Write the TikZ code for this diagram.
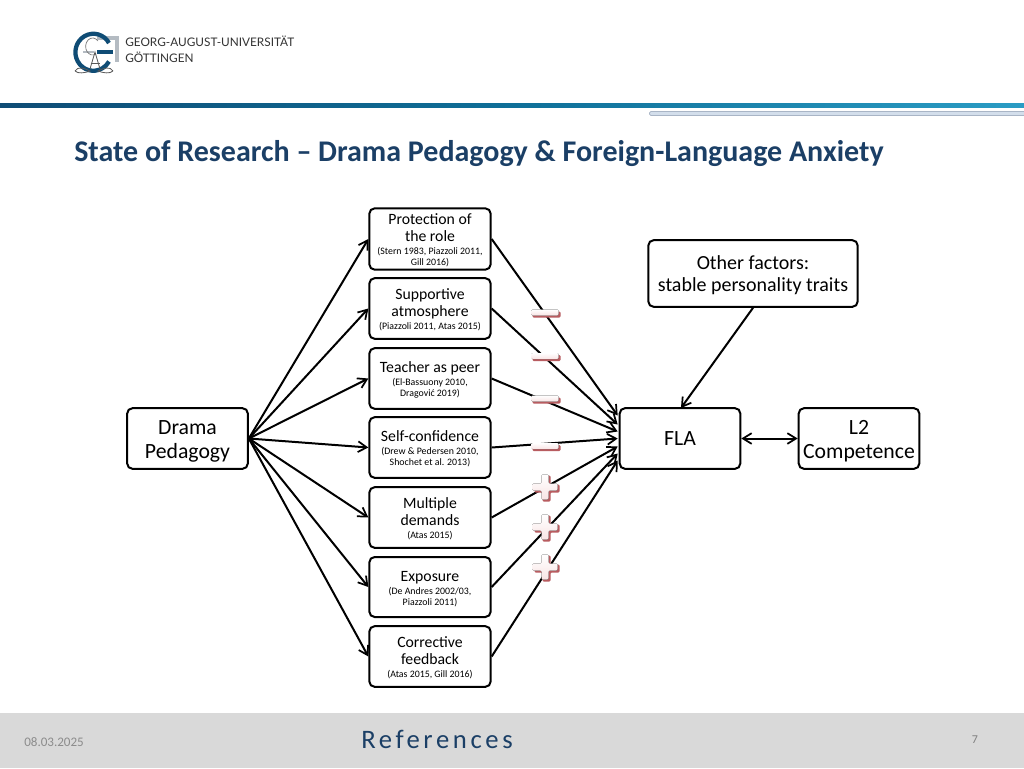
\documentclass[tikz,border=0pt]{standalone}
\usepackage{fontspec}
\setmainfont{Carlito}
\newfontfamily\spacedfont[LetterSpace=13.5]{Carlito}
\newfontfamily\logofont{Lato}
\usetikzlibrary{arrows.meta,calc}
\definecolor{titleblue}{HTML}{1B3F66}
\definecolor{barA}{HTML}{0F4C75}
\definecolor{barM}{HTML}{0F6F98}
\definecolor{barB}{HTML}{2A9CC4}
\definecolor{footgrey}{HTML}{D9D9D9}
\definecolor{symred}{HTML}{B85C60}
\definecolor{sympink}{HTML}{F8E4E4}
\definecolor{lightbar}{HTML}{D3DEEB}
\definecolor{lightedge}{HTML}{A9B5C6}
\definecolor{logogrey}{HTML}{B4BBC2}
\tikzset{
  x=0.75pt,y=-0.75pt,
  barb/.tip={Straight Barb[length=6.5pt,width=8pt,line width=1.3pt]},
  boxnode/.style={draw=black,line width=1.5pt,rounded corners=4pt,fill=white,align=center,inner sep=0pt,text=black},
  midbox/.style={boxnode,minimum width=91pt,font=\fontsize{11.8}{13.2}\selectfont},
  bigbox/.style={boxnode,minimum width=90.5pt,minimum height=45.5pt,font=\fontsize{16.3}{18}\selectfont},
  link/.style={draw=black,line width=1.5pt,-barb},
  symbolface/.style={draw=none,top color=white,bottom color=sympink},
  symbolshade/.style={draw=none,fill=symred},
}
\newcommand{\refs}[1]{{\fontsize{7.4}{8.2}\selectfont #1}}
\newcommand{\lift}{\rule{0pt}{10.2pt}}
\newcommand{\minussign}[2]{%
  \fill[symbolshade,rounded corners=0.8pt] (#1-13,#2-2) rectangle (#1+15,#2+4);
  \fill[symbolface,rounded corners=0.8pt] (#1-14,#2-4) rectangle (#1+13,#2+2);}
\newcommand{\plussign}[2]{%
  \fill[symbolshade,rounded corners=0.8pt] (#1-3,#2-12)--(#1+5,#2-12)--(#1+5,#2-3)--(#1+14,#2-3)--(#1+14,#2+5)--(#1+5,#2+5)--(#1+5,#2+14)--(#1-3,#2+14)--(#1-3,#2+5)--(#1-11,#2+5)--(#1-11,#2-3)--(#1-3,#2-3)--cycle;
  \fill[symbolface,rounded corners=0.8pt] (#1-4,#2-13)--(#1+3,#2-13)--(#1+3,#2-4)--(#1+12,#2-4)--(#1+12,#2+3)--(#1+3,#2+3)--(#1+3,#2+12)--(#1-4,#2+12)--(#1-4,#2+3)--(#1-13,#2+3)--(#1-13,#2-4)--(#1-4,#2-4)--cycle;}
\begin{document}
\begin{tikzpicture}
\useasboundingbox (0,0) rectangle (1024,768);
\fill[white] (0,0) rectangle (1024,768);
% header bars
\shade[left color=barA,right color=barB,middle color=barM] (0,103.5) rectangle (1024,107.5);
\draw[draw=lightedge,fill=lightbar,line width=0.6pt,rounded corners=1pt] (649.5,111.5) rectangle (1030,115.5);
% logo
\draw[color=logogrey,line width=2.6pt] (97,38) -- (117,38) -- (117,62);
\draw[color=logogrey,line width=1.8pt] (83,52) -- (94,52);
\draw[color=barA,line width=3.2pt] (109,43) arc (-30:-330:18 and 18.5);
\draw[color=barA,line width=2.8pt] (97,52) -- (113,52);
\draw[color=black!55!white,line width=0.5pt] (98,41) arc (-40:-300:7 and 8.5);
\draw[color=black!65!white,line width=0.6pt] (90,69) -- (95,52) -- (100,69);
\draw[color=black!65!white,line width=0.5pt] (90.5,63) -- (99.5,63);
\draw[color=black!65!white,line width=0.6pt] (75,71) .. controls (78,66) and (84,68) .. (90,71) .. controls (85,73) and (78,74) .. (75,71);
\draw[color=black!65!white,line width=0.6pt] (113,71) .. controls (110,66) and (104,68) .. (98,71) .. controls (103,73) and (110,74) .. (113,71);
\node[anchor=west,inner sep=0pt,text=black!80!white,font=\logofont\fontsize{8.85}{11}\selectfont] (unia) at (125,41.5) {GEORG-AUGUST-UNIVERSITÄT};
\node[anchor=west,inner sep=0pt,text=black!80!white,font=\logofont\fontsize{8.85}{11}\selectfont] (unib) at (125,57.5) {GÖTTINGEN};
% title
\node[anchor=base west,inner sep=0pt,text=titleblue,font=\bfseries\fontsize{22.5}{26}\selectfont] (title) at (74,161) {State of Research – Drama Pedagogy \& Foreign-Language Anxiety};
% footer
\fill[footgrey] (0,713) rectangle (1024,768);
\node[anchor=base west,inner sep=0pt,text=black!45!white,font=\fontsize{9.8}{11}\selectfont] (date) at (24,746) {08.03.2025};
\node[anchor=base,inner sep=0pt,text=titleblue,font=\spacedfont\fontsize{20}{24}\selectfont] (refs) at (437,748) {References};
\node[anchor=base,inner sep=0pt,text=black!50!white,font=\fontsize{9}{11}\selectfont] (pagenum) at (975,743) {7};
% nodes
\node[bigbox] (drama) at (187.5,438.5) {\rule{0pt}{15pt}Drama\\Pedagogy};
\node[bigbox] (fla) at (680,438.5) {FLA};
\node[bigbox] (ltwo) at (859,438.5) {\rule{0pt}{15pt}L2\\Competence};
\node[boxnode,minimum width=157pt,minimum height=50pt,font=\fontsize{15}{16.5}\selectfont] (other) at (753,273.5) {\rule{0pt}{13.5pt}Other factors:\\stable personality traits};
\node[midbox,minimum height=46pt] (b1) at (430,239) {\lift Protection of\\the role\\[-3.5pt]\refs{(Stern 1983, Piazzoli 2011,}\\[-5pt]\refs{Gill 2016)}};
\node[midbox,minimum height=45.5pt] (b2) at (430,308.5) {\lift Supportive\\atmosphere\\[-3.5pt]\refs{(Piazzoli 2011, Atas 2015)}};
\node[midbox,minimum height=45.5pt] (b3) at (430,378.5) {\lift Teacher as peer\\[-3.5pt]\refs{(El-Bassuony 2010,}\\[-5pt]\refs{Dragović 2019)}};
\node[midbox,minimum height=45.5pt] (b4) at (430,447.5) {\lift Self-confidence\\[-3.5pt]\refs{(Drew \& Pedersen 2010,}\\[-5pt]\refs{Shochet et al. 2013)}};
\node[midbox,minimum height=45.5pt] (b5) at (430,517.5) {\lift Multiple\\demands\\[-3.5pt]\refs{(Atas 2015)}};
\node[midbox,minimum height=45pt] (b6) at (430,587) {\lift Exposure\\[-3.5pt]\refs{(De Andres 2002/03,}\\[-5pt]\refs{Piazzoli 2011)}};
\node[midbox,minimum height=45.5pt] (b7) at (430,656.5) {\lift Corrective\\feedback\\[-3.5pt]\refs{(Atas 2015, Gill 2016)}};
% connector ends on FLA
\coordinate (f1) at ($(fla.west)+(-1,-23)$);
\coordinate (f2) at ($(fla.west)+(-1,-14)$);
\coordinate (f3) at ($(fla.west)+(-1,-7)$);
\coordinate (f4) at ($(fla.west)+(-1,0)$);
\coordinate (f5) at ($(fla.west)+(-1,8)$);
\coordinate (f6) at ($(fla.west)+(-1,15)$);
\coordinate (f7) at ($(fla.west)+(-1,22)$);
\coordinate (fo) at (681,408);
% connectors
\foreach \i in {1,...,7} {
  \draw[link] (drama.east) -- (b\i.west);
  \draw[link] (b\i.east) -- (f\i);
}
\draw[link] (other.south) -- (fo);
\draw[link,barb-barb] (fla.east) -- (ltwo.west);
% signs
\minussign{545.5}{313.5}
\minussign{545.5}{357}
\minussign{545.5}{399.5}
\minussign{545.5}{447}
\plussign{545.5}{487.5}
\plussign{545.5}{527.5}
\plussign{545.5}{567.5}
\end{tikzpicture}
\end{document}
